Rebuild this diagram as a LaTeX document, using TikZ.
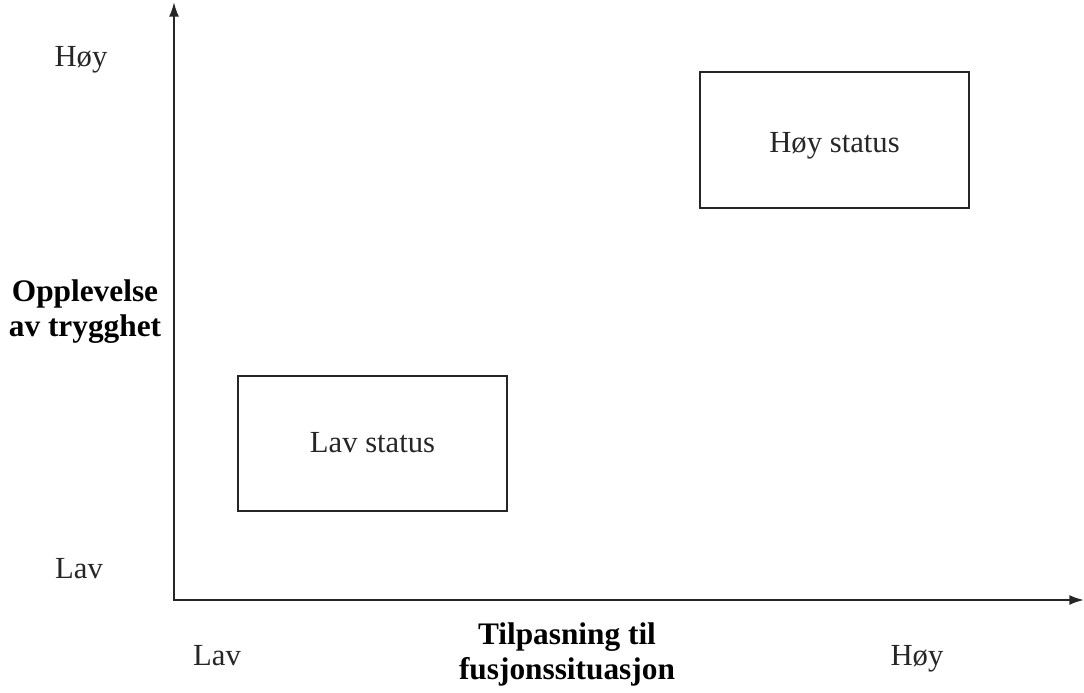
\documentclass[tikz,border=0pt]{standalone}
\usepackage{fontspec}
\setmainfont{Liberation Serif}
\usetikzlibrary{arrows.meta}
\begin{document}
\begin{tikzpicture}[x=0.75pt,y=-0.75pt,
  lbl/.style={font=\fontsize{23pt}{26.25pt}\selectfont, text=black!85, inner sep=0pt, align=center},
  blbl/.style={lbl, font=\fontsize{23.5pt}{26.25pt}\selectfont\bfseries, text=black},
  statusbox/.style={draw=black!85, line width=1.5pt, minimum width=201.75pt, minimum height=101.25pt, font=\fontsize{23pt}{26.25pt}\selectfont, text=black!85},
  axis/.style={draw=black!85, line width=1.5pt}]
\useasboundingbox (0,0) rectangle (1084,692);
\coordinate (o) at (174,600);
\coordinate (ytop) at (174,2);
\coordinate (xend) at (1084,600);
\draw[axis, {Latex[length=11pt,width=7.5pt]}-{Latex[length=11pt,width=7.5pt]}] (ytop) |- (xend);
\node[statusbox, text height=24pt] (hoy) at (834.5,140) {Høy status};
\node[statusbox] (lav) at (372.5,443) {Lav status};
\node[lbl, anchor=base] (yh) at (81,67) {Høy};
\node[lbl, anchor=base] (yl) at (79,578) {Lav};
\node[lbl, anchor=base] (xl) at (217,665) {Lav};
\node[lbl, anchor=base] (xh) at (917,665) {Høy};
\node[blbl] (ylab) at (85,312) {Opplevelse\\av trygghet};
\node[blbl] (xlab) at (567,654) {Tilpasning til\\fusjonssituasjon};
\end{tikzpicture}
\end{document}
